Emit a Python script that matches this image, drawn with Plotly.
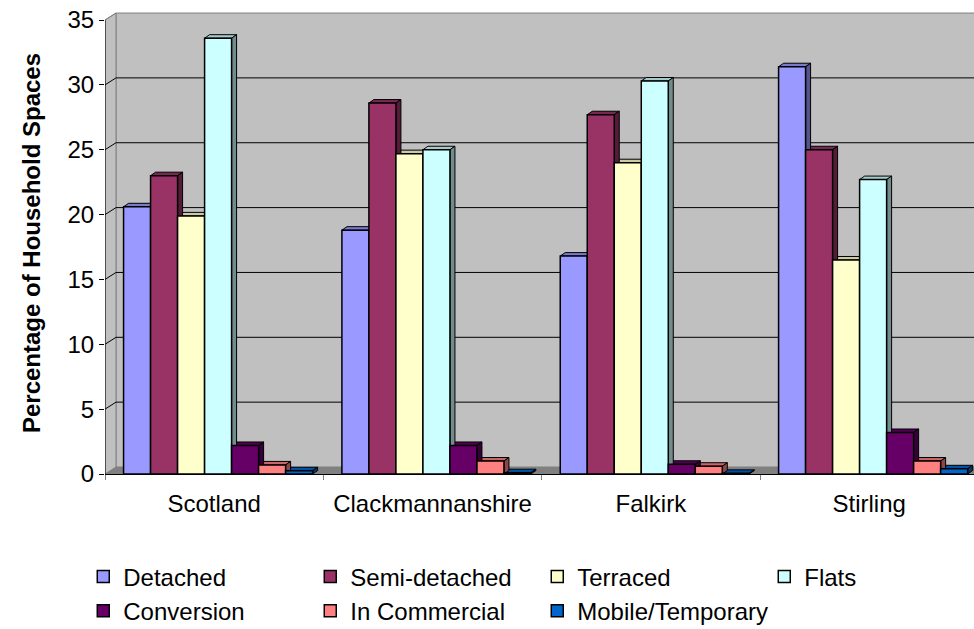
import plotly.graph_objects as go

# ---------------- data ----------------
categories = ["Scotland", "Clackmannanshire", "Falkirk", "Stirling"]
series_names = ["Detached", "Semi-detached", "Terraced", "Flats",
                "Conversion", "In Commercial", "Mobile/Temporary"]
detached = [20.6, 18.8, 16.8, 31.4]
semi_detached = [23.0, 28.6, 27.7, 25.0]
terraced = [19.9, 24.7, 24.0, 16.5]
flats = [33.6, 25.0, 30.3, 22.7]
conversion = [2.2, 2.2, 0.75, 3.2]
in_commercial = [0.7, 1.0, 0.6, 1.0]
mobile_temporary = [0.25, 0.1, 0.05, 0.4]
y_tick_values = [0, 5, 10, 15, 20, 25, 30, 35]

series_values = [detached, semi_detached, terraced, flats,
                 conversion, in_commercial, mobile_temporary]
colors = ["#9999FF", "#993366", "#FFFFCC", "#CCFFFF",
          "#660066", "#FF8080", "#0066CC"]

# ---------------- geometry / style ----------------
X0, X1 = -0.5, 3.48
Y_TOP = 35.62
PX_X = 869 / (X1 - X0)
PX_Y = 462 / Y_TOP
DXW, DYW = 11 / PX_X, 7 / PX_Y       # wall depth
DXB, DYB = 5 / PX_X, 3.5 / PX_Y      # bar depth
BW = 0.1237
START = -0.415
FONT = "Liberation Sans, Arial, sans-serif"


def shade(hexcol, f):
    h = hexcol.lstrip("#")
    r, g, b = (int(h[i:i + 2], 16) for i in (0, 2, 4))
    return "#%02X%02X%02X" % (int(r * f), int(g * f), int(b * f))


fig = go.Figure()
shapes = []

# floor
shapes.append(dict(type="path", layer="below", xref="x", yref="y",
                   path=f"M{X0},0 L{X1 + 1},0 L{X1 + 1},{DYW} L{X0 + DXW},{DYW} Z",
                   fillcolor="#808080", line=dict(color="#808080", width=1)))
# back wall
shapes.append(dict(type="rect", layer="below", xref="x", yref="y",
                   x0=X0 + DXW, x1=X1 + 1, y0=DYW, y1=35 + DYW,
                   fillcolor="#C0C0C0", line=dict(color="#808080", width=1)))
# left wall
shapes.append(dict(type="path", layer="below", xref="x", yref="y",
                   path=f"M{X0},0 L{X0 + DXW},{DYW} L{X0 + DXW},{35 + DYW} L{X0},35 Z",
                   fillcolor="#C0C0C0", line=dict(color="#808080", width=1)))
# gridlines on walls
for v in y_tick_values[1:-1]:
    shapes.append(dict(type="path", layer="below", xref="x", yref="y",
                       path=f"M{X0},{v} L{X0 + DXW},{v + DYW} L{X1 + 1},{v + DYW}",
                       line=dict(color="#000000", width=1)))

# 3D faces of bars: tops first, then sides
tops, sides = [], []
for i, vals in enumerate(series_values):
    for j, v in enumerate(vals):
        xl = j + START + i * BW
        xr = xl + BW
        tops.append(dict(type="path", layer="below", xref="x", yref="y",
                         path=f"M{xl},{v} L{xl + DXB},{v + DYB} L{xr + DXB},{v + DYB} L{xr},{v} Z",
                         fillcolor=shade(colors[i], 0.8),
                         line=dict(color="#000000", width=1)))
        sides.append(dict(type="path", layer="below", xref="x", yref="y",
                          path=f"M{xr},0 L{xr + DXB},{DYB} L{xr + DXB},{v + DYB} L{xr},{v} Z",
                          fillcolor=shade(colors[i], 0.55),
                          line=dict(color="#000000", width=1)))
shapes += tops + sides

# front-left axis line
shapes.append(dict(type="line", xref="x", yref="y", x0=X0, x1=X0, y0=0, y1=35,
                   line=dict(color="#000000", width=1)))
# top edge of left wall
shapes.append(dict(type="line", xref="x", yref="y", x0=X0, x1=X0 + DXW, y0=35, y1=35 + DYW,
                   line=dict(color="#808080", width=1)))

for i, (name, vals) in enumerate(zip(series_names, series_values)):
    fig.add_trace(go.Bar(
        name=name,
        x=list(range(len(categories))),
        y=vals,
        width=BW,
        offset=START + i * BW,
        marker=dict(color=colors[i], line=dict(color="#000000", width=1.5)),
        hoverinfo="skip",
    ))

fig.update_layout(
    width=974, height=629,
    margin=dict(l=105, r=0, t=12, b=155, autoexpand=False),
    paper_bgcolor="white", plot_bgcolor="white",
    barmode="overlay",
    font=dict(family=FONT, size=24, color="#000000"),
    shapes=shapes,
    showlegend=True,
    legend=dict(orientation="h", x=-0.025, y=-0.174, xanchor="left", yanchor="top",
                entrywidth=182, entrywidthmode="pixels",
                font=dict(family=FONT, size=24, color="#000000"),
                bgcolor="rgba(0,0,0,0)", traceorder="normal"),
    xaxis=dict(range=[X0, X1], tickmode="array", automargin=False,
               tickvals=list(range(len(categories))), ticktext=categories,
               ticks="outside", ticklen=8, tickcolor="rgba(0,0,0,0)",
               showgrid=False, zeroline=False,
               showline=True, linecolor="#000000", linewidth=1,
               tickfont=dict(family=FONT, size=24, color="#000000"),
               minor=dict(tickmode="linear", tick0=-0.5, dtick=1, ticks="outside",
                          ticklen=5, tickcolor="#808080", showgrid=False)),
    yaxis=dict(range=[0, Y_TOP], tickmode="array", tickvals=y_tick_values,
               automargin=False, ticklabeloverflow="allow",
               ticks="outside", ticklen=5, tickcolor="#000000",
               showgrid=False, zeroline=False, showline=False,
               tickfont=dict(family=FONT, size=24, color="#000000"),
               title=dict(text="<b>Percentage of Household Spaces</b>",
                          font=dict(family=FONT, size=24, color="#000000"),
                          standoff=20)),
)

fig.write_html("out.html",
               config={"displayModeBar": False},
               post_script="document.body.style.margin='0';document.body.style.overflow='hidden';")
